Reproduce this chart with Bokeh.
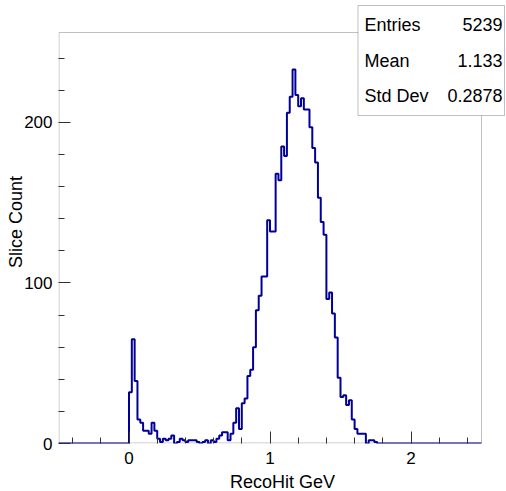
from bokeh.plotting import figure
from bokeh.models import FixedTicker, Label, BoxAnnotation
from bokeh.embed import file_html
from bokeh.resources import INLINE

# ---- data ----
x_min = -0.5
x_max = 2.5
bin_width = 0.02
counts = [
    0, 0, 0, 0, 0, 0, 0, 0, 0, 0, 0, 0, 0, 0, 0, 0, 0, 0, 0, 0, 0, 0, 0, 0, 0,
    32, 65, 39, 15, 13, 8, 8, 6, 13, 8, 3, 1, 3, 2, 3, 5, 0, 1, 3, 2,
    1, 2, 2, 2, 1, 0, 1, 2, 0, 2, 1, 3, 5, 7, 7, 2,
    6, 13, 22, 9, 25, 28, 42, 46, 60, 83, 92, 104, 104, 139,
    132, 132, 168, 164, 185, 179, 206, 216, 233, 217, 210, 215, 208, 208, 197,
    184, 175, 153, 138, 130,
    90, 94, 81, 66, 41, 29, 30, 24, 27, 15, 9, 6, 6, 6, 0, 2, 2, 1, 0,
    0, 0, 0, 0, 0, 0, 0, 0, 0, 0, 0, 0, 0, 0, 0, 0, 0, 0,
    0, 0, 0, 0, 0, 0, 0, 0, 0, 0, 0, 0, 0, 0, 0, 0, 0, 0,
]
x_major = [0, 1, 2]
x_minor = [-0.4, -0.2, 0.2, 0.4, 0.6, 0.8, 1.2, 1.4, 1.6, 1.8, 2.2, 2.4]
y_major = [0, 100, 200]
y_minor = [20, 40, 60, 80, 120, 140, 160, 180, 220, 240]
y_top = 256
stat_names = ["Entries", "Mean", "Std Dev"]
stat_values = ["5239", "1.133", "0.2878"]

edges = [x_min + bin_width * i for i in range(len(counts) + 1)]
step_y = counts + [counts[-1]]

# ---- layout (pixels) ----
FRAME_W, FRAME_H = 448, 443      # drawing area (extends under the stats box)
HIST_W, HIST_H = 423, 411        # visible histogram frame inside it
x_end = x_min + (x_max - x_min) * FRAME_W / HIST_W
y_end = y_top * FRAME_H / HIST_H

FONT = "Liberation Sans"
AX = "#303030"

p = figure(frame_width=FRAME_W, frame_height=FRAME_H,
           x_range=(x_min, x_end), y_range=(0, y_end),
           output_backend="svg", toolbar_location=None,
           min_border_left=58, min_border_right=0, min_border_top=0, min_border_bottom=48)
p.background_fill_color = "white"
p.border_fill_color = "white"
p.outline_line_color = None
p.xgrid.visible = False
p.ygrid.visible = False

# histogram frame box
frame_box = BoxAnnotation(left=0.5, left_units="screen", right=x_max,
                          bottom=0.5, bottom_units="screen", top=y_top,
                          fill_color=None, line_color=AX, line_width=1, level="underlay")
p.add_layout(frame_box)

p.step(edges, step_y, mode="after", line_color="#000099", line_width=2)

for ax in (p.xaxis[0], p.yaxis[0]):
    ax.axis_line_color = None
    ax.major_tick_line_color = AX
    ax.minor_tick_line_color = AX
    ax.major_tick_in = 12
    ax.major_tick_out = 0
    ax.minor_tick_in = 6
    ax.minor_tick_out = 0
    ax.major_label_text_font = FONT
    ax.major_label_text_font_size = "17px"
    ax.major_label_text_color = "black"
    ax.axis_label_text_font = FONT
    ax.axis_label_text_font_size = "18px"
    ax.axis_label_text_font_style = "normal"
    ax.axis_label_text_color = "black"

p.xaxis.ticker = FixedTicker(ticks=x_major, minor_ticks=x_minor)
p.yaxis.ticker = FixedTicker(ticks=y_major, minor_ticks=y_minor)
p.xaxis.axis_label = "RecoHit GeV"
p.yaxis.axis_label = "Slice Count"
p.xaxis.major_label_standoff = 8
p.yaxis.major_label_standoff = 6
p.xaxis.axis_label_standoff = 5
p.yaxis.axis_label_standoff = -5
p.xaxis.major_label_text_line_height = 0.8
p.xaxis.axis_label_text_line_height = 0.8

# stats box (screen units relative to the frame, origin bottom-left)
box = BoxAnnotation(left=299.5, right=446, bottom=328, top=438,
                    left_units="screen", right_units="screen",
                    bottom_units="screen", top_units="screen",
                    fill_color="white", fill_alpha=1.0,
                    line_color=AX, line_width=1, level="overlay")
p.add_layout(box)
rows_y = [419, 383, 348]
for name, val, yy in zip(stat_names, stat_values, rows_y):
    p.add_layout(Label(x=306, y=yy, x_units="screen", y_units="screen", text=name,
                       text_font=FONT, text_font_size="18px", text_baseline="alphabetic",
                       text_align="left", text_color="black", level="overlay"))
    p.add_layout(Label(x=444, y=yy, x_units="screen", y_units="screen", text=val,
                       text_font=FONT, text_font_size="18px", text_baseline="alphabetic",
                       text_align="right", text_color="black", level="overlay"))

open("out.html", "w").write(file_html(p, INLINE))
